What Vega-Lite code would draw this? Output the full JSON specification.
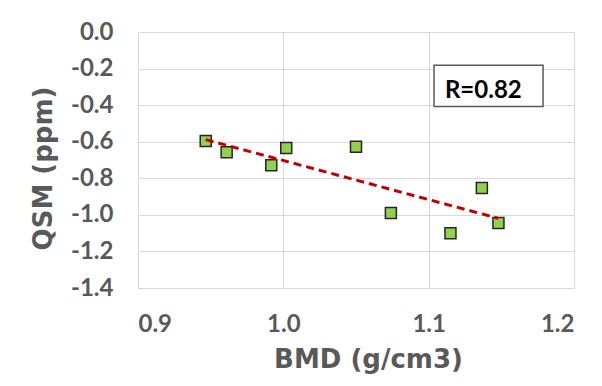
{
  "$schema": "https://vega.github.io/schema/vega-lite/v6.json",
  "width": 436,
  "height": 256,
  "autosize": {"type": "none"},
  "padding": {"left": 138, "top": 32, "right": 28, "bottom": 98},
  "background": "white",
  "config": {
    "view": {"stroke": "#d9d9d9", "strokeWidth": 1},
    "axis": {
      "gridColor": "#d9d9d9",
      "gridWidth": 1,
      "domain": false,
      "ticks": false,
      "labelOverlap": false,
      "labelFont": "Lato",
      "labelFontWeight": "bold",
      "labelFontSize": 24,
      "labelColor": "#595959",
      "titleFont": "DejaVu Sans",
      "titleFontWeight": "bold",
      "titleFontSize": 26,
      "titleColor": "#595959"
    }
  },
  "datasets": {
    "points": [
      {"bmd": 0.9466, "qsm": -0.596},
      {"bmd": 0.961, "qsm": -0.658},
      {"bmd": 0.9917, "qsm": -0.729},
      {"bmd": 1.002, "qsm": -0.634},
      {"bmd": 1.05, "qsm": -0.627},
      {"bmd": 1.074, "qsm": -0.99},
      {"bmd": 1.115, "qsm": -1.101},
      {"bmd": 1.1366, "qsm": -0.853},
      {"bmd": 1.148, "qsm": -1.045}
    ],
    "box": [
      {"bmd": 1.1037, "bmd2": 1.1787, "qsm": -0.182, "qsm2": -0.408}
    ],
    "label": [
      {"bmd": 1.1376, "qsm": -0.3605, "label": "R=0.82"}
    ]
  },
  "encoding": {
    "x": {
      "field": "bmd", "type": "quantitative",
      "scale": {"domain": [0.9, 1.2], "nice": false, "zero": false},
      "axis": {"values": [0.9, 1.0, 1.1, 1.2], "tickCount": 4, "labelExpr": "format(datum.value, '.1f')", "labelPadding": 24, "title": "BMD (g/cm3)", "titlePadding": 10, "titleX": 230}
    },
    "y": {
      "field": "qsm", "type": "quantitative",
      "scale": {"domain": [-1.4, 0], "nice": false, "zero": false},
      "axis": {"values": [-1.4, -1.2, -1.0, -0.8, -0.6, -0.4, -0.2, 0], "tickCount": 8, "labelExpr": "datum.value < 0 ? '-' + format(-datum.value, '.1f') : format(datum.value, '.1f')", "labelPadding": 25, "title": "QSM (ppm)", "titlePadding": 14, "titleY": 136}
    }
  },
  "layer": [
    {
      "data": {"name": "points"},
      "mark": {"type": "point", "shape": "square", "filled": true, "fill": "#92d050", "stroke": "#262626", "strokeWidth": 1.5, "size": 121, "opacity": 1}
    },
    {
      "data": {"name": "points"},
      "transform": [{"regression": "qsm", "on": "bmd"}],
      "mark": {"type": "line", "color": "#c00000", "strokeWidth": 3, "strokeDash": [8, 5]}
    },
    {
      "data": {"name": "box"},
      "mark": {"type": "rect", "fill": "white", "stroke": "#595959", "strokeWidth": 1.5},
      "encoding": {
        "x2": {"field": "bmd2"},
        "y2": {"field": "qsm2"}
      }
    },
    {
      "data": {"name": "label"},
      "mark": {"type": "text", "font": "Lato", "fontWeight": "bold", "fontSize": 24, "color": "black", "align": "center", "baseline": "alphabetic"},
      "encoding": {
        "text": {"field": "label"}
      }
    }
  ]
}
